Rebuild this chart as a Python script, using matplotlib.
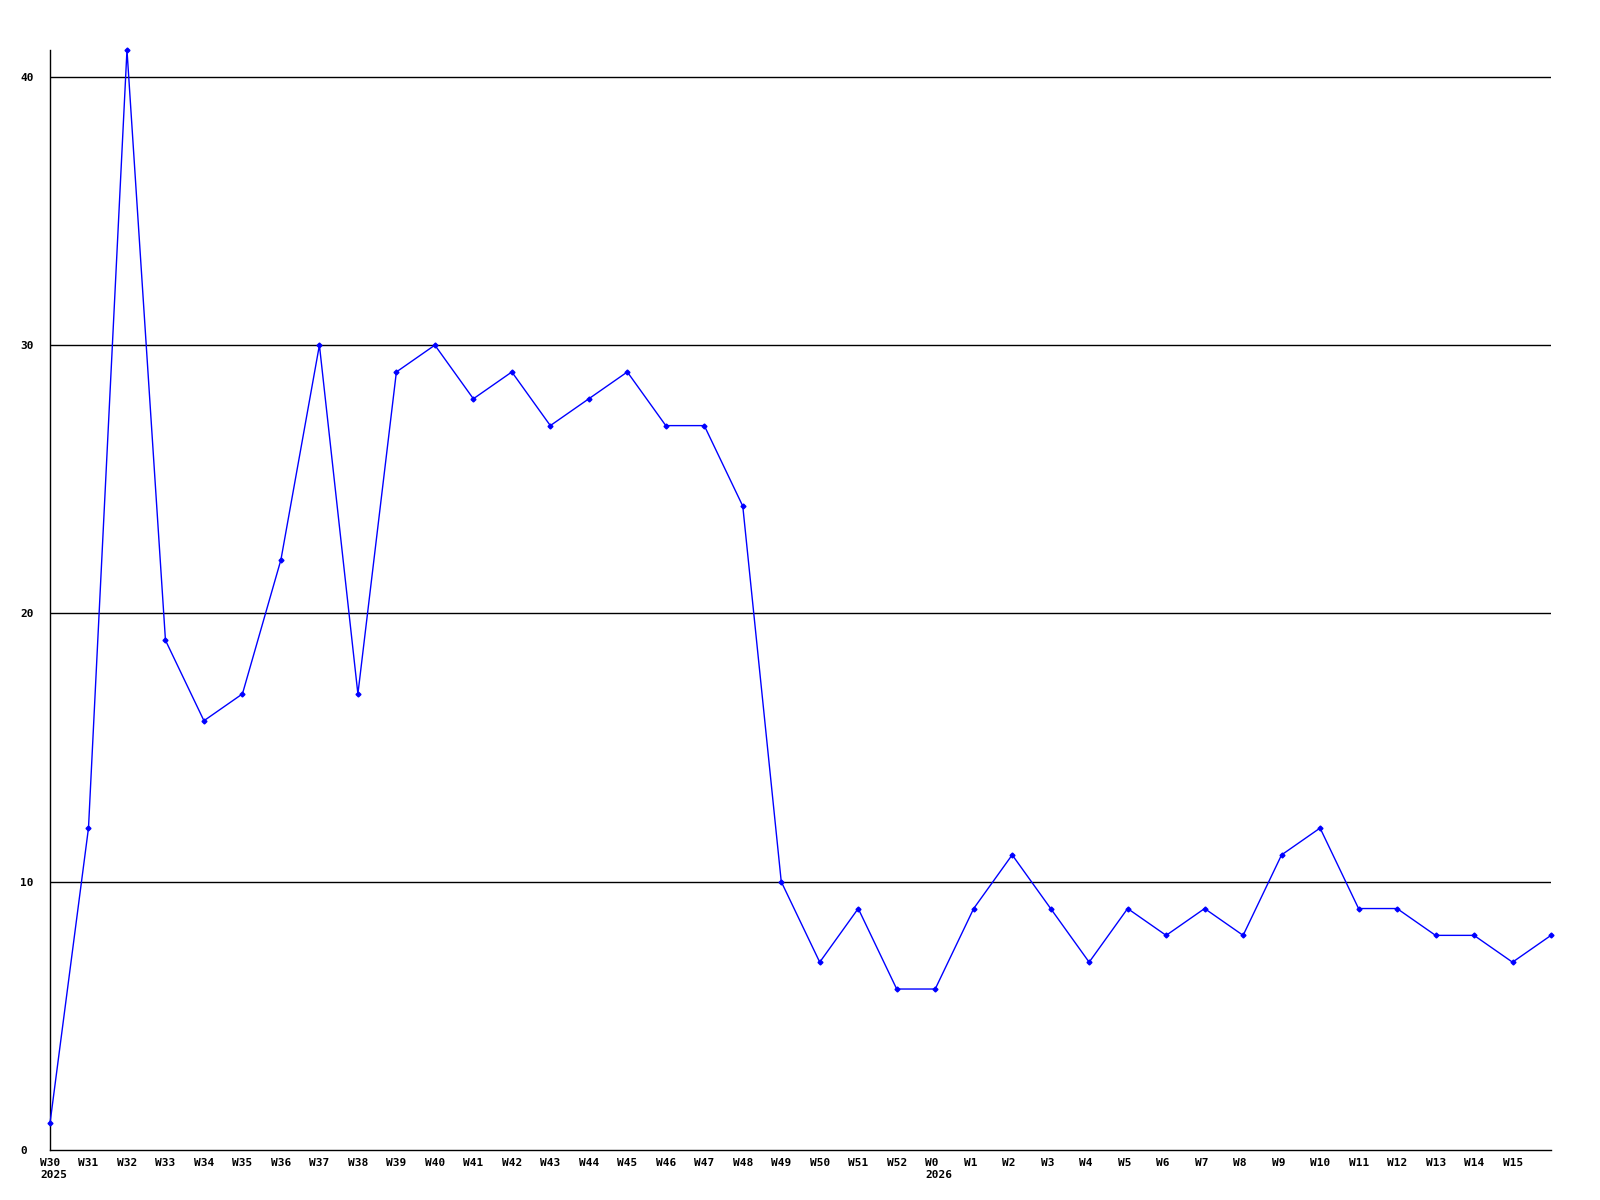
import matplotlib.pyplot as plt
import matplotlib.transforms as mtransforms

weeks = ['W30', 'W31', 'W32', 'W33', 'W34', 'W35', 'W36', 'W37', 'W38', 'W39',
         'W40', 'W41', 'W42', 'W43', 'W44', 'W45', 'W46', 'W47', 'W48', 'W49',
         'W50', 'W51', 'W52', 'W0', 'W1', 'W2', 'W3', 'W4', 'W5', 'W6',
         'W7', 'W8', 'W9', 'W10', 'W11', 'W12', 'W13', 'W14', 'W15', '']
years = {'W30': '2025', 'W0': '2026'}
values = [1, 12, 41, 19, 16, 17, 22, 30, 17, 29,
          30, 28, 29, 27, 28, 29, 27, 27, 24, 10,
          7, 9, 6, 6, 9, 11, 9, 7, 9, 8,
          9, 8, 11, 12, 9, 9, 8, 8, 7, 8]
y_ticks = [0, 10, 20, 30, 40]

fig = plt.figure(figsize=(16, 12), dpi=100)
ax = fig.add_axes([50 / 1600, 50 / 1200, 1501 / 1600, 1100 / 1200])

xs = list(range(len(values)))
ax.plot(xs, values, color='#0000ff', linewidth=1, marker='D',
        markersize=2.5, zorder=3, clip_on=False)

for v in y_ticks[1:]:
    ax.axhline(v, color='black', linewidth=1, zorder=1)

ax.set_xlim(0, len(values) - 1)
ax.set_ylim(0, 41)

for side in ('top', 'right'):
    ax.spines[side].set_visible(False)
for side in ('left', 'bottom'):
    ax.spines[side].set_linewidth(1)
    ax.spines[side].set_color('black')

font = dict(family='DejaVu Sans Mono', weight='bold', size=8)

# week labels, left-aligned a little left of each tick
ax.set_xticks([])
shift = mtransforms.ScaledTranslation(-10 / 100, -8 / 100, fig.dpi_scale_trans)
trans = ax.get_xaxis_transform() + shift
for x, w in zip(xs, weeks):
    text = w + ('\n' + years[w] if w in years else '')
    ax.text(x, 0, text, transform=trans, ha='left', va='top',
            linespacing=1.2, clip_on=False, **font)

ax.set_yticks(y_ticks)
ax.set_yticklabels([str(v) for v in y_ticks], ha='left', **font)
ax.tick_params(axis='y', length=0, pad=21.6)

fig.savefig('out.png', dpi=100)
